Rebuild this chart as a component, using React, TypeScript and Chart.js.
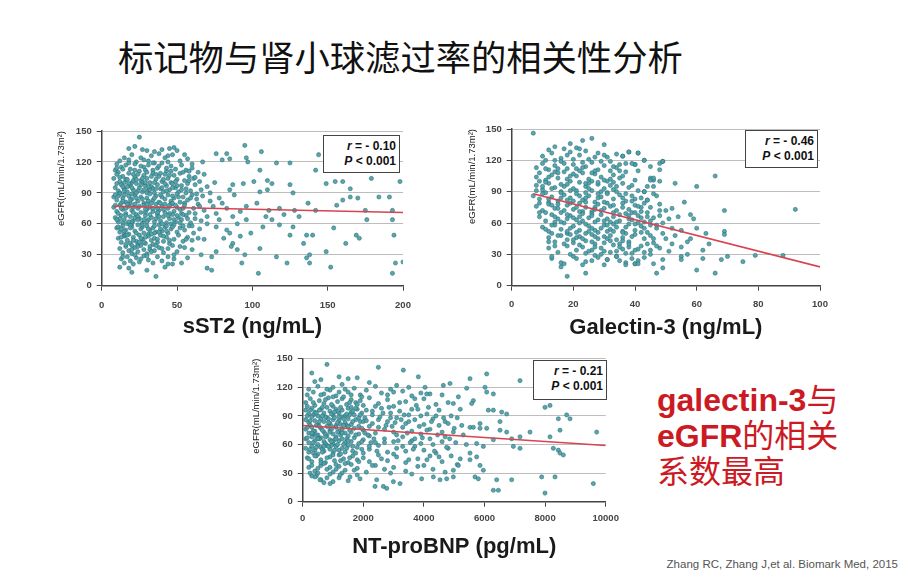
import React, { useEffect, useRef } from "react";
import { Chart, registerables } from "chart.js";

Chart.register(...registerables);

type Pt = [number, number];

// ---------- data ----------
const yRange = { min: 0, max: 150, step: 30 };

const sst2Points: Pt[] = [
  [25,144],[22,135],[18,133],[30,131],[40,132],[45,133],[48,134],[50,131],[35,130],[27,132],
  [12,121],[15,124],[20,127],[28,122],[33,126],[38,128],[42,124],[47,127],[52,121],[57,123],[23,120],[31,121],[44,120],[60,118],[10,118],
  [9,112],[13,115],[16,117],[19,113],[22,118],[25,111],[28,115],[31,117],[34,112],[37,114],[40,119],[43,111],[46,116],[49,113],[53,117],[56,112],[60,114],[64,110],[11,110],[18,119],[26,116],[35,119],[58,111],
  [8,104],[10,108],[12,101],[14,106],[16,103],[18,109],[20,100],[22,105],[24,108],[26,102],[28,107],[30,104],[32,100],[34,109],[36,103],[38,106],[40,101],[42,108],[44,104],[46,100],[48,107],[50,103],[52,109],[55,102],[58,106],[61,104],[65,101],[15,100],[27,100],[39,109],[21,102],[33,106],
  [9,95],[11,92],[13,98],[15,94],[17,91],[19,97],[21,93],[23,99],[25,95],[27,91],[29,97],[31,93],[33,96],[35,90],[37,98],[39,94],[41,91],[43,97],[45,93],[47,99],[49,95],[51,91],[53,97],[56,94],[59,92],[62,98],[66,93],[70,96],[12,90],[20,95],[26,98],[34,94],[42,99],[50,97],[18,99],[30,90],
  [8,86],[10,83],[12,89],[14,85],[16,81],[18,87],[20,84],[22,88],[24,82],[26,86],[28,80],[30,85],[32,89],[34,83],[36,87],[38,81],[40,86],[42,84],[44,88],[46,82],[48,85],[50,89],[52,81],[54,86],[57,83],[60,88],[63,84],[67,87],[72,82],[15,88],[23,85],[31,82],[39,88],[47,87],[55,80],[19,80],
  [8,76],[10,72],[12,78],[14,74],[16,70],[18,77],[20,73],[22,79],[24,75],[26,71],[28,78],[30,74],[32,76],[34,72],[36,79],[38,73],[40,77],[42,71],[44,75],[46,79],[48,72],[50,76],[52,74],[55,78],[58,71],[61,75],[64,79],[68,73],[74,77],[13,80],[21,76],[29,71],[37,75],[45,78],[53,70],[11,70],
  [9,66],[11,62],[13,68],[15,64],[17,60],[19,67],[21,63],[23,69],[25,65],[27,61],[29,68],[31,64],[33,66],[35,62],[37,69],[39,63],[41,67],[43,61],[45,65],[47,69],[49,62],[51,66],[53,64],[56,68],[59,61],[62,65],[66,63],[70,67],[14,61],[22,66],[30,62],[38,67],[46,60],[54,69],[20,60],
  [10,56],[12,52],[14,58],[16,54],[18,50],[20,57],[22,53],[24,59],[26,55],[28,51],[30,58],[32,54],[34,56],[36,52],[38,59],[40,53],[42,57],[44,51],[46,55],[48,59],[50,52],[52,56],[55,54],[58,58],[61,51],[65,55],[19,59],[27,57],[35,51],[43,58],[15,50],[31,50],
  [11,46],[13,42],[15,48],[17,44],[19,41],[21,47],[23,43],[25,49],[27,45],[29,41],[31,48],[33,44],[35,46],[37,42],[39,49],[41,43],[43,47],[45,41],[48,45],[51,49],[54,43],[57,47],[60,44],[64,46],[24,40],[34,40],[16,49],
  [12,36],[14,32],[16,38],[18,34],[20,31],[22,37],[24,33],[26,39],[28,35],[30,31],[32,38],[35,34],[38,37],[41,32],[44,36],[47,39],[50,33],[55,37],[60,35],[20,39],
  [13,26],[15,22],[17,28],[19,24],[21,21],[23,27],[25,23],[28,29],[31,25],[34,22],[37,28],[40,24],[44,21],[48,26],[53,22],[57,27],[42,18],[12,18],[18,17],
  [20,13],[36,9],[30,15],[47,21],
  [10,99],[14,96],[17,103],[21,108],[24,92],[27,104],[29,112],[32,93],[36,108],[40,95],[45,107],[49,101],[54,110],[57,99],[11,87],[15,92],[19,83],[23,90],[27,84],[31,96],[35,85],[39,80],[43,92],[47,80],[51,86],[56,90],[59,85],[9,78],[13,75],[17,79],[21,71],[25,77],[29,74],[33,80],[37,71],[41,74],[45,70],[49,78],[54,75],[12,65],[16,68],[20,62],[24,67],[28,64],[32,69],[36,65],[40,60],[44,68],[48,64],[52,61],[57,65],[11,57],[15,53],[19,56],[23,51],[27,59],[31,55],[35,58],[39,55],[43,53],[47,57],[13,47],[17,49],[21,44],[25,42],[29,47],[33,50],[37,45],[41,48],[45,44],[16,40],[20,35],[24,38],[28,42],[32,35],[36,39],[40,36],[14,28],[22,30],[26,26],[30,29],[33,33],[18,122],[22,112],[26,124],[30,110],[34,119],[38,116],[43,114],[14,113],[10,114],[12,105],[17,96],[23,103],[29,100],[35,100],[41,103],[47,95],[53,93],[58,102],[63,89],[65,77],[62,70],[60,58],[56,45],[52,38],[48,30],[44,28],[26,46],[18,62],[34,75],[42,79],[28,93],[20,89],[16,75],[38,52],[50,68],[54,58],[24,64],[30,79],[36,94],[46,111],[44,126],[55,127],[62,105],[14,82],[10,64],[9,88],[13,55],
  [95,136],[76,128],[83,128],[106,130],[67,120],[80,122],[85,123],[96,124],[97,120],[125,119],[116,119],[142,112],[144,127],[105,112],[110,102],[113,99],[94,99],[101,101],[87,98],[85,93],[105,91],[110,93],[125,98],[127,90],[149,99],[155,101],[160,101],[165,94],[170,85],[160,83],[179,104],[198,101],[191,86],[137,80],[142,73],[156,78],[165,86],[128,73],[118,75],[111,73],[103,80],[96,77],[92,72],[83,75],[109,67],[121,69],[131,67],[107,57],[113,64],[118,59],[127,57],[125,49],[136,49],[140,49],[134,41],[154,56],[162,41],[169,49],[171,46],[176,64],[193,64],[194,49],[149,33],[152,18],[138,30],[138,22],[136,27],[123,22],[116,28],[105,36],[104,12],[93,22],[95,30],[87,41],[90,35],[76,33],[73,28],[73,15],[70,17],[193,12],[195,22],[200,23],[184,86],[175,73],[193,73],[78,64],[76,57],[83,54],[81,46],[86,38],[92,48],[85,51],[99,51],[96,64],[87,67],[76,70],[72,90],[75,100],[78,85],[68,108],[70,60],[68,45],[80,80],[88,88],[90,60],[66,30]
];
const sst2Fit: Pt[] = [[8, 77], [200, 71]];

const galectinPoints: Pt[] = [
  [7,146],[14,133],[19,136],[23,139],[30,135],[26,141],[17,131],[12,130],[21,132],
  [10,124],[13,127],[16,122],[19,128],[22,125],[25,121],[28,127],[31,123],[34,126],[11,120],[18,125],[24,129],[36,124],[38,128],[41,127],[43,120],[27,123],
  [8,113],[10,117],[12,111],[14,115],[16,119],[18,112],[20,116],[22,110],[24,114],[26,118],[28,111],[30,115],[32,119],[34,113],[37,117],[40,116],[45,114],[48,117],[49,119],[15,112],[23,118],[35,110],
  [8,104],[9,108],[11,101],[13,106],[15,103],[17,109],[19,100],[21,105],[23,108],[25,102],[27,107],[29,104],[31,100],[33,106],[35,103],[37,109],[40,101],[45,103],[46,101],[14,109],[26,100],[20,107],[32,102],
  [8,96],[10,92],[12,98],[14,94],[16,90],[18,97],[20,93],[22,99],[24,95],[26,91],[28,97],[30,93],[32,96],[34,90],[36,98],[38,94],[41,91],[43,90],[11,99],[17,95],[25,98],[29,90],[33,99],[21,91],
  [7,86],[9,83],[11,89],[13,85],[15,81],[17,87],[19,84],[21,88],[23,82],[25,86],[27,80],[29,85],[31,89],[33,83],[35,87],[37,81],[39,86],[42,84],[44,82],[12,80],[20,81],[28,88],[36,84],[16,89],[24,84],
  [8,76],[10,72],[12,78],[14,74],[16,70],[18,77],[20,73],[22,79],[24,75],[26,71],[28,78],[30,74],[32,76],[34,72],[36,79],[38,73],[40,77],[42,71],[45,75],[48,72],[52,74],[15,78],[23,71],[31,79],[39,70],[27,75],[19,79],
  [9,66],[11,62],[13,68],[15,64],[17,60],[19,67],[21,63],[23,69],[25,65],[27,61],[29,68],[31,64],[33,66],[35,62],[37,69],[39,63],[41,67],[43,61],[46,65],[49,60],[14,61],[22,66],[30,62],[38,67],[26,69],[18,64],
  [10,56],[12,52],[14,58],[16,54],[18,50],[20,57],[22,53],[24,59],[26,55],[28,51],[30,58],[32,54],[34,56],[36,52],[38,59],[40,53],[42,57],[44,51],[47,55],[13,50],[21,51],[29,55],[37,50],[25,52],[33,59],
  [12,46],[14,42],[16,48],[18,44],[20,41],[22,47],[24,43],[26,49],[28,45],[30,41],[32,48],[34,44],[36,46],[38,42],[40,49],[43,45],[46,41],[19,49],[27,40],[35,40],[23,45],[31,45],
  [12,36],[15,32],[18,38],[21,34],[24,31],[27,37],[30,33],[33,39],[36,35],[39,31],[42,38],[45,34],[22,39],[29,30],[38,37],[48,36],[32,32],[26,34],
  [13,26],[16,22],[20,28],[24,23],[27,29],[31,25],[34,28],[37,22],[40,21],[41,24],
  [9,100],[12,104],[15,108],[18,102],[21,112],[24,98],[27,110],[30,101],[33,92],[36,105],[39,96],[10,88],[13,93],[16,97],[19,91],[22,86],[25,93],[28,84],[31,88],[34,95],[37,88],[40,83],[43,79],[9,79],[12,83],[15,74],[18,82],[21,75],[24,80],[27,73],[30,80],[33,70],[36,75],[39,81],[42,75],[11,70],[14,66],[17,72],[20,65],[23,62],[26,67],[29,72],[32,61],[35,68],[38,64],[41,60],[44,66],[13,58],[16,61],[19,55],[22,60],[25,57],[28,63],[31,52],[34,61],[37,56],[40,59],[43,55],[15,48],[18,52],[21,46],[24,50],[27,53],[30,47],[33,52],[36,43],[39,47],[42,51],[45,48],[17,40],[20,44],[23,37],[26,42],[29,36],[32,43],[35,37],[38,40],[41,35],[44,40],[19,30],[25,33],[28,27],[34,33],[37,31],[40,34],[11,112],[14,120],[17,117],[20,121],[23,113],[26,108],[29,119],[32,110],[35,116],[10,95],[19,105],[28,99],[22,71],[31,58],[40,70],[16,84],[24,89],[33,77],[45,58],[18,68],[27,47],[36,51],[13,77],[8,91],[9,70],[11,54],[30,125],[33,114],[41,110],[44,95],[46,88],[48,78],[42,65],[46,45],[43,32],[39,26],[35,24],[30,20],[26,24],[21,26],[14,38],[12,42],
  [60,95],[66,105],[92,73],[69,72],[58,68],[59,64],[54,66],[69,52],[69,49],[63,50],[57,42],[55,37],[49,50],[50,45],[51,33],[55,28],[55,25],[49,25],[46,21],[49,17],[47,12],[60,15],[66,12],[62,26],[68,25],[70,28],[75,23],[79,29],[88,29],[49,119],[48,111],[45,101],[46,103],[43,90],[41,76],[44,82],[51,64],[55,53],[41,127],[38,128],[40,116],[43,120],[36,124],[39,117],[22,131],[18,9],[24,12],[23,20],[37,20],[40,21],[41,21],[13,28],[17,21],[16,18],[31,25],[34,28],[47,58],[52,55],[45,62],[48,67],[44,70],[53,48],[58,45],[64,40],[62,34],[57,30],[47,38],[45,30],[43,27],[52,40],[50,72],[47,86],[48,100],[46,95],[53,98],[56,80],[60,55]
];
const galectinFit: Pt[] = [[7, 88], [100, 18]];

const ntprobnpPoints: Pt[] = [
  [800,144],[300,135],[600,128],[1200,131],[1500,129],[2200,125],[1800,130],[400,126],
  [200,118],[500,121],[700,113],[900,117],[1100,111],[1300,123],[1500,115],[1700,119],[1900,112],[2100,117],[150,112],[1000,120],[2400,121],[2600,114],[2900,118],[3100,122],[3300,116],[3600,111],[3900,114],[4200,113],
  [100,104],[250,108],[400,101],[550,106],[700,103],[850,109],[1000,100],[1150,105],[1300,108],[1450,102],[1600,107],[1750,104],[1900,106],[2000,101],[2200,109],[2500,103],[2800,107],[3000,100],[3400,105],[3700,108],[4400,102],[4800,104],
  [100,96],[200,92],[300,98],[400,94],[500,90],[600,97],[700,93],[800,99],[900,95],[1000,91],[1100,97],[1200,93],[1300,96],[1400,90],[1500,98],[1600,94],[1700,91],[1800,97],[1950,93],[2100,96],[2300,91],[2600,98],[2900,93],[3200,95],[3500,91],[3800,97],[4100,92],[4500,96],[4900,90],[350,91],[650,99],[950,92],[1250,99],[1550,91],
  [100,86],[200,83],[300,89],[400,85],[500,81],[600,87],[700,84],[800,88],[900,82],[1000,86],[1100,80],[1200,85],[1300,89],[1400,83],[1500,87],[1600,81],[1750,86],[1900,84],[2050,88],[2300,82],[2500,86],[2800,84],[3100,88],[3400,82],[3700,86],[4000,81],[4300,87],[4700,84],[250,80],[550,84],[850,87],[1150,83],[1450,80],
  [100,76],[200,72],[300,78],[400,74],[500,70],[600,77],[700,73],[800,79],[900,75],[1000,71],[1100,78],[1200,74],[1300,76],[1400,72],[1500,79],[1600,73],[1700,77],[1850,71],[2000,75],[2200,79],[2400,72],[2700,76],[3000,73],[3300,78],[3600,74],[3900,71],[4200,76],[4600,73],[5000,77],[350,71],[650,75],[950,79],[1250,70],
  [100,66],[200,62],[300,68],[400,64],[500,60],[600,67],[700,63],[800,69],[900,65],[1000,61],[1100,68],[1200,64],[1300,66],[1400,62],[1500,69],[1600,63],[1700,67],[1850,61],[2000,65],[2200,69],[2400,62],[2700,66],[3000,63],[3300,68],[3600,64],[3900,61],[4200,66],[4600,63],[450,69],[750,61],[1050,65],[1350,60],
  [100,56],[200,52],[300,58],[400,54],[500,50],[600,57],[700,53],[800,59],[900,55],[1000,51],[1100,58],[1200,54],[1300,56],[1400,52],[1500,59],[1650,53],[1800,57],[2000,51],[2200,55],[2500,59],[2800,52],[3100,56],[3400,53],[3700,58],[4000,54],[4400,51],[4800,56],[350,51],[650,55],[950,59],
  [150,46],[300,42],[450,48],[600,44],[750,41],[900,47],[1050,43],[1200,49],[1350,45],[1500,41],[1650,48],[1800,44],[2000,46],[2200,42],[2500,49],[2800,43],[3100,47],[3400,41],[3800,45],[4200,48],[4600,42],[5200,45],
  [200,36],[400,32],[600,38],[800,34],[1000,31],[1200,37],[1400,33],[1600,39],[1800,35],[2100,31],[2400,38],[2700,34],[3000,36],[3400,32],[3800,37],[4300,34],[4700,31],[5100,39],[500,30],[1100,39],
  [300,27],[600,23],[900,29],[1200,25],[1500,22],[1800,28],[700,20],[1000,21],
  [150,100],[350,104],[550,96],[750,107],[950,102],[1150,95],[1350,110],[1550,104],[1750,98],[1950,110],[150,90],[450,93],[750,89],[1050,94],[1350,87],[1650,95],[1850,88],[250,85],[450,80],[650,90],[850,83],[1050,88],[1250,81],[1450,92],[1650,84],[1850,79],[150,78],[350,74],[550,79],[750,71],[950,76],[1150,73],[1350,80],[1550,75],[1750,70],[1950,77],[150,67],[350,62],[550,66],[750,68],[950,63],[1150,60],[1450,66],[1650,58],[1950,63],[250,55],[450,57],[650,52],[850,58],[1050,54],[1250,50],[1450,56],[1750,51],[1950,55],[200,45],[400,48],[600,41],[800,46],[1000,49],[1250,43],[1550,46],[1850,42],[300,38],[500,35],[700,40],[900,36],[1300,30],[1700,33],[450,27],[800,25],[1100,34],[1400,40],[600,112],[800,118],[1000,110],[1200,115],[1400,118],[1600,112],[1800,102],[350,115],[250,96],[900,73],[1100,66],[1300,72],[1500,64],[700,58],[500,66],[300,72],[1200,89],[1600,99],[1900,91],[2000,84],
  [2100,85],[2300,95],[2500,78],[2700,62],[2900,88],[3100,70],[3300,58],[3500,84],[3700,66],[3900,90],[4100,75],[4300,60],[4500,80],[4700,68],[2200,58],[2600,45],[3000,50],[3500,44],[4000,38],[4500,47],[2400,100],[2800,112],[3200,104],[3600,97],[4000,108],[4400,90],[4800,82],[5100,88],[5300,70],[5400,60],[2050,72],[2350,66],[2650,93],[2950,79],[3250,86],[3550,62],[3850,79],[4150,99],[4450,70],[4750,57],
  [2150,70],[2250,62],[2450,53],[2550,89],[2750,80],[2850,99],[3050,83],[3150,64],[3350,91],[3450,72],[3650,55],[3750,101],[3950,67],[4250,84],[4350,53],[4650,88],[4850,66],[5050,62],[5250,80],[2300,38],[2900,30],[3600,29],[4100,44],[4900,48],[3000,115],[3500,120],[4600,112],[5200,97],
  [3322,138],[2497,141],[3817,131],[6072,134],[5522,129],[4642,122],[4862,124],[4037,120],[4092,113],[6017,120],[6072,115],[6292,113],[7172,127],[5412,119],[5137,110],[4972,103],[5632,106],[5577,103],[7997,99],[8162,101],[8437,87],[8712,91],[8822,87],[7502,73],[9702,73],[8492,75],[8162,68],[7172,68],[6897,66],[6567,94],[6732,92],[6127,96],[6292,96],[6512,84],[5852,82],[6072,77],[6512,75],[6732,73],[5522,78],[5632,78],[5852,77],[4972,73],[6292,65],[5962,58],[6952,58],[7172,56],[8272,56],[8437,54],[8492,51],[8602,49],[5742,61],[5522,51],[5742,47],[5522,44],[5137,38],[4972,33],[5852,38],[5962,33],[5687,26],[5797,24],[6402,23],[6292,12],[6457,12],[6897,23],[7887,26],[8327,26],[7997,9],[9592,19],[4312,26],[4532,23],[4752,24],[4972,26],[3927,24],[2992,21],[3212,19],[2662,16],[2772,14],[2387,16],[2442,23],[1892,24],[572,23],[902,19],[407,26],[242,30],[1562,26],[1232,28]
];
const ntprobnpFit: Pt[] = [[0, 80], [10000, 59]];

const yTitle = "eGFR(mL/min/1.73m\u00B2)";
const panelTitles = ["sST2 (ng/mL)", "Galectin-3 (ng/mL)", "NT-proBNP (pg/mL)"];
const rValues = ["- 0.10", "- 0.46", "- 0.21"];
const pValue = "< 0.001";

// ---------- layout ----------
interface Box { left: number; top: number; width: number; height: number }
interface Area { left: number; top: number; right: number; bottom: number }
interface PanelSpec {
  points: Pt[];
  fit: Pt[];
  xMax: number;
  xStep: number;
  xTitle: string;
  canvas: Box;
  area: Area;
  xTickPad: number;
  xTitleY: number;
  yTitleX: number;
  rText: string;
  statBox: Box;
}

const FONT = "'Liberation Sans', Arial, Helvetica, sans-serif";
const CJK = "'Noto Sans CJK SC', sans-serif";
const TICK_SIZE = 9.5;

const panels: PanelSpec[] = [
  {
    points: sst2Points, fit: sst2Fit, xMax: 200, xStep: 50, xTitle: panelTitles[0],
    canvas: { left: 50, top: 118, width: 370, height: 225 },
    area: { left: 101.7, top: 131, right: 403, bottom: 285.7 },
    xTickPad: 8.6, xTitleY: 327, yTitleX: 61, rText: rValues[0],
    statBox: { left: 323, top: 135, width: 77, height: 38 },
  },
  {
    points: galectinPoints, fit: galectinFit, xMax: 100, xStep: 20, xTitle: panelTitles[1],
    canvas: { left: 460, top: 118, width: 380, height: 225 },
    area: { left: 511.7, top: 129, right: 820, bottom: 285.7 },
    xTickPad: 7.6, xTitleY: 328, yTitleX: 472, rText: rValues[1],
    statBox: { left: 745, top: 130, width: 73, height: 38 },
  },
  {
    points: ntprobnpPoints, fit: ntprobnpFit, xMax: 10000, xStep: 2000, xTitle: panelTitles[2],
    canvas: { left: 245, top: 348, width: 390, height: 222 },
    area: { left: 302.7, top: 358, right: 605.7, bottom: 501.7 },
    xTickPad: 5.6, xTitleY: 547, yTitleX: 256, rText: rValues[2],
    statBox: { left: 533, top: 360, width: 74, height: 40 },
  },
];

function ScatterPanel({ spec }: { spec: PanelSpec }) {
  const ref = useRef<HTMLCanvasElement | null>(null);
  useEffect(() => {
    if (!ref.current) return;
    const c = spec.canvas;
    const a = spec.area;
    const yWidth = a.left - c.left;
    const padTop = a.top - c.top;
    const padRight = c.left + c.width - a.right;
    const xHeight = c.top + c.height - a.bottom;
    const xTitleSize = 22;
    const xTitlePadBottom = Math.max(0, c.top + c.height - spec.xTitleY - (xTitleSize * 1.2) / 2);
    const yTitleSize = 9.5;
    const yTitlePadTop = Math.max(0, spec.yTitleX - c.left - (yTitleSize * 1.2) / 2);

    const chart = new Chart(ref.current, {
      type: "scatter",
      data: {
        datasets: [
          {
            type: "line",
            data: spec.fit.map(([x, y]) => ({ x, y })),
            borderColor: "#d8434f",
            borderWidth: 1.6,
            pointRadius: 0,
            fill: false,
            order: 0,
          } as any,
          {
            type: "scatter",
            data: spec.points.map(([x, y]) => ({ x, y })),
            pointRadius: 2.1,
            pointBackgroundColor: "rgba(78,162,170,0.95)",
            pointBorderColor: "rgba(40,102,112,0.85)",
            pointBorderWidth: 0.6,
            order: 1,
          },
        ],
      },
      options: {
        animation: false,
        responsive: false,
        maintainAspectRatio: false,
        layout: { padding: { top: padTop, right: padRight, left: 0, bottom: 0 } },
        plugins: { legend: { display: false }, tooltip: { enabled: false } },
        scales: {
          x: {
            type: "linear",
            min: 0,
            max: spec.xMax,
            ticks: {
              stepSize: spec.xStep,
              padding: spec.xTickPad,
              color: "#444",
              font: { family: FONT, size: TICK_SIZE, weight: "bold" },
              maxRotation: 0,
              callback: (v: any) => String(v),
            },
            grid: { drawOnChartArea: false, drawTicks: true, tickLength: 5, tickColor: "#444" },
            border: { display: true, color: "#444", width: 1.5 },
            title: {
              display: true,
              text: spec.xTitle,
              color: "#1a1a1a",
              font: { family: FONT, size: xTitleSize, weight: "bold" },
              padding: { top: 0, bottom: xTitlePadBottom },
            },
            afterFit: (scale: any) => { scale.height = xHeight; },
          },
          y: {
            type: "linear",
            min: yRange.min,
            max: yRange.max,
            ticks: {
              stepSize: yRange.step,
              padding: 5,
              color: "#444",
              font: { family: FONT, size: TICK_SIZE, weight: "bold" },
              callback: (v: any) => String(v),
            },
            grid: { color: "#bdbdbd", lineWidth: 1, drawTicks: true, tickLength: 5, tickColor: "#444" },
            border: { display: true, color: "#444", width: 1.5 },
            title: {
              display: true,
              text: yTitle,
              align: "end",
              color: "#222",
              font: { family: FONT, size: yTitleSize },
              padding: { top: yTitlePadTop, bottom: 0 },
            },
            afterFit: (scale: any) => { scale.width = yWidth; },
          },
        },
      } as any,
    });
    return () => chart.destroy();
  }, [spec]);

  const c = spec.canvas;
  const b = spec.statBox;
  return (
    <>
      <canvas
        ref={ref}
        width={c.width}
        height={c.height}
        style={{ position: "absolute", left: c.left, top: c.top, width: c.width, height: c.height }}
      />
      <div
        style={{
          position: "absolute",
          left: b.left,
          top: b.top,
          width: b.width,
          height: b.height,
          boxSizing: "border-box",
          border: "1.5px solid #444",
          background: "#fff",
          fontFamily: FONT,
          fontWeight: "bold",
          fontSize: 12,
          lineHeight: "15px",
          textAlign: "right",
          padding: "3px 3px 0 0",
          color: "#111",
        }}
      >
        <div><i>r</i> = {spec.rText}</div>
        <div><i>P</i> {pValue}</div>
      </div>
    </>
  );
}

export default function App() {
  return (
    <div style={{ position: "relative", width: 908, height: 578, background: "#fff", overflow: "hidden" }}>
      <style>{`body{margin:0;background:#fff;}`}</style>
      <div
        style={{
          position: "absolute",
          left: 118,
          top: 35,
          fontFamily: CJK,
          fontSize: 35.3,
          lineHeight: "42px",
          color: "#111",
          whiteSpace: "nowrap",
        }}
      >
        标记物与肾小球滤过率的相关性分析
      </div>
      {panels.map((p, i) => (
        <ScatterPanel key={i} spec={p} />
      ))}
      <div
        style={{
          position: "absolute",
          left: 657,
          top: 381,
          color: "#cc1a24",
          fontSize: 32,
          lineHeight: "33px",
          fontFamily: FONT,
          whiteSpace: "nowrap",
        }}
      >
        <div><b>galectin-3</b><span style={{ fontFamily: CJK }}>与</span></div>
        <div><b>eGFR</b><span style={{ fontFamily: CJK }}>的相关</span></div>
        <div style={{ fontFamily: CJK }}>系数最高</div>
      </div>
      <div
        style={{
          position: "absolute",
          right: 10,
          top: 558,
          fontFamily: FONT,
          fontSize: 11.5,
          color: "#555",
          whiteSpace: "nowrap",
        }}
      >
        Zhang RC, Zhang J,et al. Biomark Med, 2015
      </div>
    </div>
  );
}
